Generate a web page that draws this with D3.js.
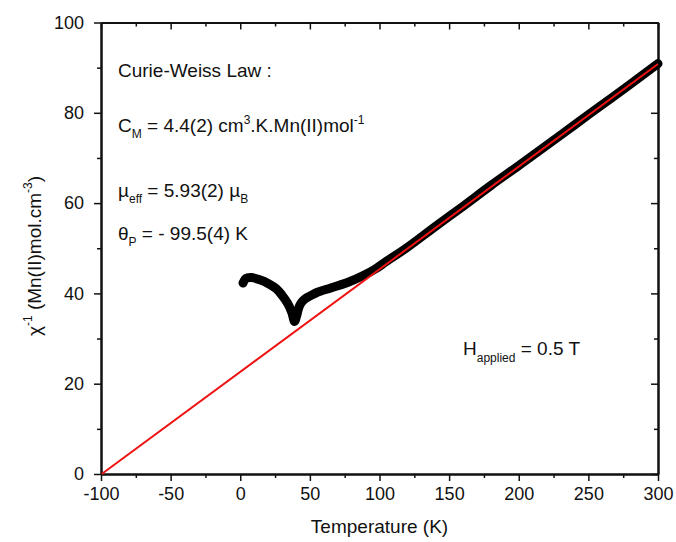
<!DOCTYPE html>
<html>
<head>
<meta charset="utf-8">
<script src="https://cdn.jsdelivr.net/npm/d3@7"></script>
<style>
  body { margin: 0; background: #fff; }
  svg { font-family: "Liberation Sans", Arial, sans-serif; }
  .axis path, .axis line { stroke: #111; }
  .axis text { font-size: 18px; fill: #111; }
</style>
</head>
<body>
<svg width="676" height="542"></svg>
<script>
var temps = [2, 4, 8, 14, 20, 26, 30, 34, 37, 39, 40.5, 42, 44, 47, 50, 55, 65, 77, 88, 97, 105, 120, 140, 160, 180, 200, 220, 240, 260, 280, 300];
var chiInv = [42.3, 43.3, 43.5, 43.0, 42.2, 41.0, 39.6, 37.8, 35.8, 33.8, 35.0, 36.8, 38.0, 38.9, 39.4, 40.2, 41.2, 42.4, 43.9, 45.4, 47.1, 50.2, 54.8, 59.3, 63.9, 68.3, 72.8, 77.3, 81.8, 86.3, 90.9];

// Curie-Weiss fit: chi^-1 = (T - thetaP) / C
var fitT = [-99.5, 300];
var fitChi = [0, 90.8];

var xMajor = [-100, -50, 0, 50, 100, 150, 200, 250, 300];
var xMinor = [-75, -25, 25, 75, 125, 175, 225, 275];
var yMajor = [0, 20, 40, 60, 80, 100];
var yMinor = [10, 30, 50, 70, 90];

var svg = d3.select("svg"),
    margin = {top: 22.5, right: 18, bottom: 68, left: 101},
    width = +svg.attr("width") - margin.left - margin.right,
    height = +svg.attr("height") - margin.top - margin.bottom,
    g = svg.append("g").attr("transform", "translate(" + margin.left + "," + margin.top + ")");

var x = d3.scaleLinear().domain([-100, 300]).range([0, width]);
var y = d3.scaleLinear().domain([0, 100]).range([height, 0]);

function styleAxis(sel) {
  sel.attr("class", "axis");
  sel.select(".domain").attr("stroke-width", 2);
  sel.selectAll(".tick line").attr("stroke-width", 1.5);
}

var plain = function(d) { return String(d); };

// minor ticks
g.append("g").attr("transform", "translate(0," + height + ")")
  .call(d3.axisBottom(x).tickValues(xMinor).tickSize(4).tickSizeOuter(0).tickFormat(""))
  .call(styleAxis);
g.append("g")
  .call(d3.axisBottom(x).tickValues(xMinor).tickSize(4).tickSizeOuter(0).tickFormat(""))
  .call(styleAxis);
g.append("g")
  .call(d3.axisLeft(y).tickValues(yMinor).tickSize(4).tickSizeOuter(0).tickFormat(""))
  .call(styleAxis);
g.append("g").attr("transform", "translate(" + width + ",0)")
  .call(d3.axisLeft(y).tickValues(yMinor).tickSize(4).tickSizeOuter(0).tickFormat(""))
  .call(styleAxis);

// major ticks
g.append("g").attr("transform", "translate(0," + height + ")")
  .call(d3.axisBottom(x).tickValues(xMajor).tickSize(7).tickSizeOuter(0).tickPadding(6).tickFormat(plain))
  .call(styleAxis);
g.append("g")
  .call(d3.axisBottom(x).tickValues(xMajor).tickSize(7).tickSizeOuter(0).tickFormat(""))
  .call(styleAxis);
g.append("g")
  .call(d3.axisLeft(y).tickValues(yMajor).tickSize(7).tickSizeOuter(0).tickPadding(10).tickFormat(plain))
  .call(styleAxis);
g.append("g").attr("transform", "translate(" + width + ",0)")
  .call(d3.axisLeft(y).tickValues(yMajor).tickSize(7).tickSizeOuter(0).tickFormat(""))
  .call(styleAxis);

// data band
g.append("path")
    .datum(d3.zip(temps, chiInv))
    .attr("fill", "none")
    .attr("stroke", "#000")
    .attr("stroke-width", 9)
    .attr("stroke-linecap", "round")
    .attr("stroke-linejoin", "round")
    .attr("d", d3.line()
      .x(function(d) { return x(d[0]); })
      .y(function(d) { return y(d[1]); })
      .curve(d3.curveCatmullRom));

// fit line
g.append("path")
    .datum(d3.zip(fitT, fitChi))
    .attr("fill", "none")
    .attr("stroke", "#ee1111")
    .attr("stroke-width", 2)
    .attr("d", d3.line()
      .x(function(d) { return x(d[0]); })
      .y(function(d) { return y(d[1]); }));

// annotations
var ann = svg.append("g").attr("font-size", 19).attr("fill", "#111");

ann.append("text").attr("x", 118).attr("y", 77).text("Curie-Weiss Law :");

var t1 = ann.append("text").attr("x", 118).attr("y", 132);
t1.append("tspan").text("C");
t1.append("tspan").attr("font-size", 12).attr("dy", 6).text("M");
t1.append("tspan").attr("dy", -6).text(" = 4.4(2) cm");
t1.append("tspan").attr("font-size", 12).attr("dy", -8).text("3");
t1.append("tspan").attr("dy", 8).text(".K.Mn(II)mol");
t1.append("tspan").attr("font-size", 12).attr("dy", -8).text("-1");

var t2 = ann.append("text").attr("x", 118).attr("y", 197);
t2.append("tspan").text("\u00b5");
t2.append("tspan").attr("font-size", 12).attr("dy", 6).text("eff");
t2.append("tspan").attr("dy", -6).text(" = 5.93(2) \u00b5");
t2.append("tspan").attr("font-size", 12).attr("dy", 6).text("B");

var t3 = ann.append("text").attr("x", 118).attr("y", 240);
t3.append("tspan").text("\u03b8");
t3.append("tspan").attr("font-size", 12).attr("dy", 6).text("P");
t3.append("tspan").attr("dy", -6).text(" = - 99.5(4) K");

var t4 = ann.append("text").attr("x", 463).attr("y", 355);
t4.append("tspan").text("H");
t4.append("tspan").attr("font-size", 12).attr("dy", 7).text("applied");
t4.append("tspan").attr("dy", -7).text(" = 0.5 T");

// axis titles
svg.append("text")
    .attr("x", margin.left + width / 2)
    .attr("y", 533)
    .attr("text-anchor", "middle")
    .attr("font-size", 19)
    .attr("fill", "#111")
    .text("Temperature (K)");

var yt = svg.append("text")
    .attr("transform", "translate(41,256) rotate(-90)")
    .attr("text-anchor", "middle")
    .attr("font-size", 19)
    .attr("fill", "#111");
yt.append("tspan").text("\u03c7");
yt.append("tspan").attr("font-size", 12).attr("dy", -9).text("-1");
yt.append("tspan").attr("dy", 9).text(" (Mn(II)mol.cm");
yt.append("tspan").attr("font-size", 12).attr("dy", -9).text("-3");
yt.append("tspan").attr("dy", 9).text(")");
</script>
</body>
</html>
